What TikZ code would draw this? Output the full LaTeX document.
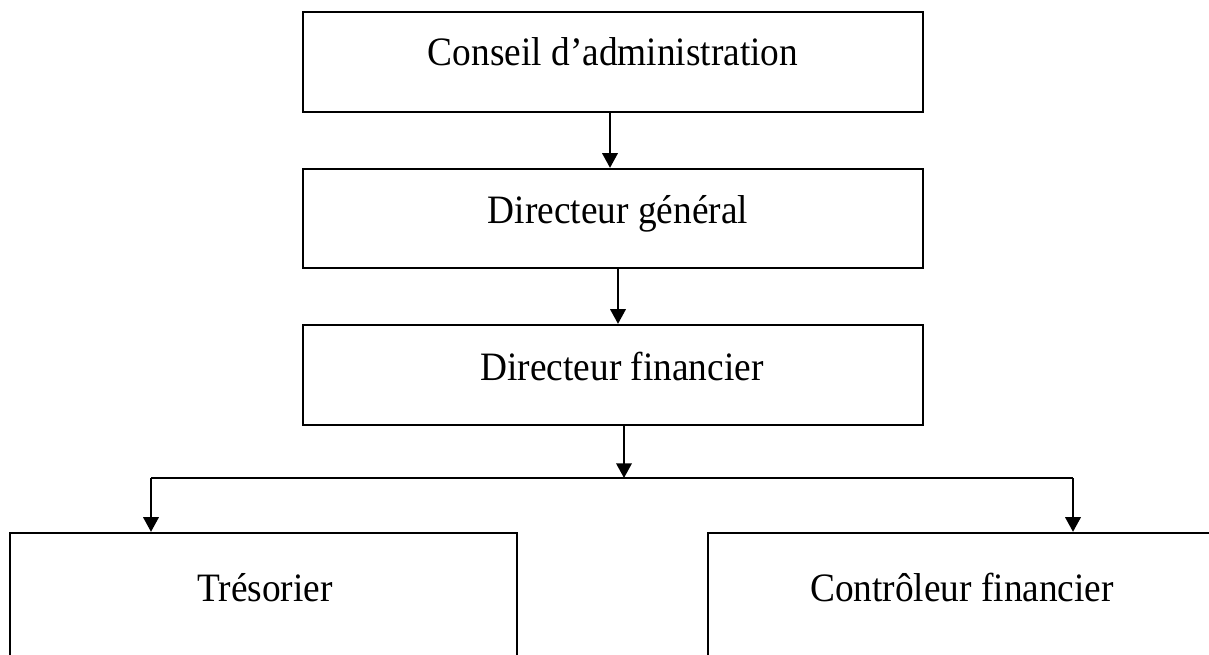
\documentclass[tikz,border=0pt]{standalone}
\usepackage{fontspec}
\setmainfont{Liberation Serif}
\usetikzlibrary{arrows.meta}
\newcommand{\tall}[1]{\scalebox{1}[1.08]{#1}}
\tikzset{
  box/.style={draw=black, line width=1.7pt, rectangle, inner sep=0pt},
  lbl/.style={anchor=base, inner sep=0pt, font=\fontsize{28}{32}\selectfont},
  arr/.style={line width=1.8pt, -{Triangle[length=11pt,width=11.5pt]}},
  link/.style={line width=1pt}
}
\begin{document}
\begin{tikzpicture}[x=0.75pt,y=-0.75pt]
\useasboundingbox (0,0) rectangle (1209,655);
\clip (0,0) rectangle (1209,655);
\node[box, minimum width=465pt, minimum height=75pt] (b1) at (613,62) {};
\node[box, minimum width=465pt, minimum height=74.25pt] (b2) at (613,218.5) {};
\node[box, minimum width=465pt, minimum height=75pt] (b3) at (613,375) {};
\node[box, minimum width=380.25pt, minimum height=150pt] (b4) at (263.5,633) {};
\node[box, minimum width=381pt, minimum height=150pt] (b5) at (962,633) {};
\node[lbl] (t1) at (613,66) {\tall{Conseil d’administration}};
\node[lbl] (t2) at (618,224) {\tall{Directeur général}};
\node[lbl] (t3) at (622,381) {\tall{Directeur financier}};
\node[lbl] (t4) at (265,601) {\tall{Trésorier}};
\node[lbl] (t5) at (962,601) {\tall{Contrôleur financier}};
\coordinate (x1) at (610,0);
\coordinate (x2) at (618,0);
\coordinate (x3) at (624,0);
\coordinate (j) at (624,478);
\coordinate (l) at (151,478);
\coordinate (r) at (1073,478);
\draw[arr] (x1 |- b1.south) -- (x1 |- b2.north);
\draw[arr] (x2 |- b2.south) -- (x2 |- b3.north);
\draw[arr] (x3 |- b3.south) -- (j);
\draw[link] (l) -- (r);
\draw[arr] (l) -- (l |- b4.north);
\draw[arr] (r) -- (r |- b5.north);
\end{tikzpicture}
\end{document}
